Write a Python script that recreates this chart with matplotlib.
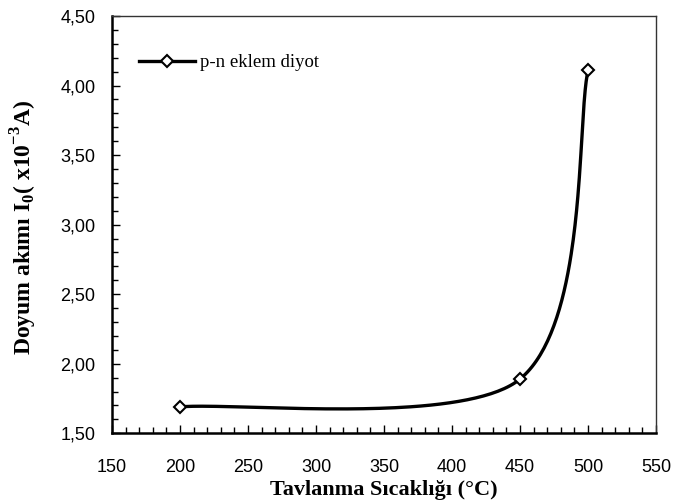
import numpy as np
import matplotlib
matplotlib.use("Agg")
import matplotlib.pyplot as plt
from matplotlib.ticker import MultipleLocator, FuncFormatter

# Annealing temperature (°C) and saturation current I0 (x10^-3 A)
temperature = [200, 450, 500]
saturation_current = [1.69, 1.89, 4.11]
series_label = "p-n eklem diyot"
x_label = "Tavlanma Sıcaklığı (°C)"
y_label = r"Doyum akımı I$_\mathregular{0}$( x10$^\mathregular{-3}$A)"


def smooth_curve(xs, ys, arm_out=1 / 6, arm_in=0.14, n=80):
    """Piecewise cubic Bezier through the points with Catmull-Rom style tangents."""
    pts = np.column_stack([xs, ys]).astype(float)
    out = []
    m = len(pts)
    for i in range(m - 1):
        p0 = pts[max(i - 1, 0)]
        p1 = pts[i]
        p2 = pts[i + 1]
        p3 = pts[min(i + 2, m - 1)]
        c1 = p1 + (p2 - p0) * arm_out
        c2 = p2 - (p3 - p1) * (arm_in if i + 2 < m else 1 / 6)
        t = np.linspace(0, 1, n)[:, None]
        seg = ((1 - t) ** 3) * p1 + 3 * ((1 - t) ** 2) * t * c1 \
            + 3 * (1 - t) * t ** 2 * c2 + t ** 3 * p2
        out.append(seg if i == 0 else seg[1:])
    curve = np.vstack(out)
    return curve[:, 0], curve[:, 1]


plt.rcParams["mathtext.fontset"] = "custom"
plt.rcParams["mathtext.rm"] = "Liberation Serif:bold"
plt.rcParams["mathtext.bf"] = "Liberation Serif:bold"

fig = plt.figure(figsize=(6.75, 5.04), dpi=100)
ax = fig.add_axes([0.1659, 0.1403, 0.8060, 0.8280])

cx, cy = smooth_curve(temperature, saturation_current)
ax.plot(cx, cy, color="black", lw=2.4, solid_capstyle="butt", zorder=2)
ax.plot(temperature, saturation_current, linestyle="none", marker="D",
        ms=6.2, mfc="white", mec="black", mew=1.5, zorder=3)

# legend handle: line with the same open diamond
ax.plot([], [], color="black", lw=2.4, marker="D", ms=6.2, mfc="white",
        mec="black", mew=1.5, label=series_label)
ax.legend(loc="center left", bbox_to_anchor=(0.036, 0.888), frameon=False,
          handlelength=3.0, handletextpad=0.27, borderaxespad=0,
          prop={"family": "Liberation Serif", "size": 13.5})

ax.set_xlim(150, 550)
ax.set_ylim(1.5, 4.5)
ax.xaxis.set_major_locator(MultipleLocator(50))
ax.xaxis.set_minor_locator(MultipleLocator(10))
ax.yaxis.set_major_locator(MultipleLocator(0.5))
ax.yaxis.set_minor_locator(MultipleLocator(0.1))
ax.yaxis.set_major_formatter(FuncFormatter(lambda v, p: f"{v:.2f}".replace(".", ",")))

ax.tick_params(which="both", direction="in", top=False, right=False,
               color="black", width=1.0)
ax.tick_params(which="major", length=5.5)
ax.tick_params(which="minor", length=4.5)
ax.tick_params(axis="x", which="major", pad=18.5)
ax.tick_params(axis="y", which="major", pad=12)
for lab in ax.get_xticklabels() + ax.get_yticklabels():
    lab.set_fontfamily("Liberation Sans")
    lab.set_fontsize(13)

for side in ("left", "bottom"):
    ax.spines[side].set_linewidth(1.8)
    ax.spines[side].set_color("black")
for side in ("top", "right"):
    ax.spines[side].set_linewidth(1.0)
    ax.spines[side].set_color("#333333")

ax.set_xlabel(x_label, fontfamily="Liberation Serif", fontweight="bold", fontsize=16)
ax.set_ylabel(y_label, fontfamily="Liberation Serif", fontweight="bold", fontsize=17)
ax.xaxis.set_label_coords(0.5, -0.112)
ax.yaxis.set_label_coords(-0.134, 0.494)

fig.savefig("out.png", dpi=100)
